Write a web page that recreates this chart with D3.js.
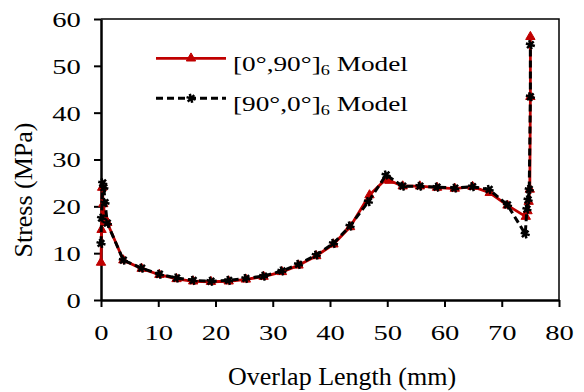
<!DOCTYPE html>
<html>
<head>
<meta charset="utf-8">
<script src="https://cdn.jsdelivr.net/npm/d3@7"></script>
<style>
  body { margin: 0; background: #fff; }
</style>
</head>
<body>
<div id="chart"></div>
<script>
// [0°,90°]6 model
const redX = [0, 0.1, 0.2, 0.4, 0.7, 1.1, 3.9, 7.1, 10.2, 13.2, 16.1, 19.2, 22.3, 25.3, 28.4, 31.6, 34.5, 37.6, 40.6, 43.5, 46.9, 49.6, 50.4, 52.7, 55.7, 58.7, 61.8, 64.9, 67.9, 71.0, 74.2, 74.5, 74.7, 74.9, 75.0, 75.0];
const redY = [8.0, 15.0, 24.0, 20.5, 17.5, 16.5, 8.5, 6.7, 5.4, 4.5, 4.0, 3.9, 4.0, 4.4, 5.0, 6.0, 7.4, 9.4, 11.9, 15.6, 22.4, 25.6, 25.5, 24.3, 24.3, 24.0, 23.8, 24.2, 22.9, 20.2, 17.8, 19.0, 21.0, 23.6, 43.4, 56.2];
// [90°,0°]6 model
const blackX = [0, 0.1, 0.3, 0.5, 0.7, 1.1, 3.9, 7.1, 10.2, 13.2, 16.1, 19.2, 22.3, 25.3, 28.4, 31.6, 34.5, 37.6, 40.6, 43.5, 46.7, 49.8, 52.7, 55.7, 58.7, 61.8, 64.9, 67.8, 71.0, 74.1, 74.4, 74.6, 74.8, 75.0, 75.0];
const blackY = [12.1, 17.5, 25.0, 24.0, 20.8, 16.4, 8.5, 6.8, 5.5, 4.7, 4.2, 4.0, 4.2, 4.6, 5.1, 6.2, 7.6, 9.6, 12.1, 15.8, 21.0, 26.7, 24.3, 24.3, 24.1, 23.9, 24.2, 23.6, 20.3, 14.1, 19.4, 21.4, 23.6, 43.4, 54.5];

const xTicks = [0, 10, 20, 30, 40, 50, 60, 70, 80];
const yTicks = [0, 10, 20, 30, 40, 50, 60];

const width = 584, height = 392;
const margin = { left: 101, right: 25, top: 19, bottom: 92 };
const stretch = 1.3; // tick and legend text in the picture is wider than normal
const font = '"Liberation Serif"';

const svg = d3.select('#chart').append('svg')
  .attr('width', width)
  .attr('height', height);

const x = d3.scaleLinear().domain([0, 80]).range([margin.left, width - margin.right]);
const y = d3.scaleLinear().domain([0, 60]).range([height - margin.bottom, margin.top]);

// frame on top and right
svg.append('path')
  .attr('d', `M${x(0)},${y(60)}H${x(80)}V${y(0)}`)
  .attr('fill', 'none')
  .attr('stroke', '#000')
  .attr('stroke-width', 1.5);

const xAxis = svg.append('g')
  .attr('transform', `translate(0,${y(0)})`)
  .call(d3.axisBottom(x).tickValues(xTicks).tickSize(7).tickSizeOuter(0));
xAxis.select('.domain').attr('stroke-width', 2.5);
xAxis.selectAll('.tick line').attr('stroke-width', 2);
xAxis.selectAll('.tick text')
  .attr('y', 40).attr('dy', 0)
  .attr('transform', `scale(${stretch},1)`);

const yAxis = svg.append('g')
  .attr('transform', `translate(${x(0)},0)`)
  .call(d3.axisLeft(y).tickValues(yTicks).tickSize(7).tickSizeOuter(0));
yAxis.select('.domain').attr('stroke-width', 2.5);
yAxis.selectAll('.tick line').attr('stroke-width', 2);
yAxis.selectAll('.tick text')
  .attr('x', -15.5).attr('dy', '0.34em')
  .attr('transform', `scale(${stretch},1)`);
svg.selectAll('.tick text')
  .style('font-family', font)
  .style('font-size', '22px')
  .attr('fill', '#000');

svg.append('text')
  .attr('x', 342).attr('y', 385)
  .attr('text-anchor', 'middle')
  .style('font-family', font)
  .style('font-size', '26px')
  .text('Overlap Length (mm)');

svg.append('text')
  .attr('transform', 'translate(31.5,190) rotate(-90)')
  .attr('text-anchor', 'middle')
  .style('font-family', font)
  .style('font-size', '26px')
  .text('Stress (MPa)');

const redData = redX.map((d, i) => [d, redY[i]]);
const blackData = blackX.map((d, i) => [d, blackY[i]]);

const line = d3.line().x(d => x(d[0])).y(d => y(d[1]));

const redColor = '#c00000';
const dash = '7,4';
const tri = d3.symbol().type(d3.symbolTriangle).size(38);
const crossType = d3.symbolAsterisk || d3.symbolCross;
const star = d3.symbol().type(crossType).size(60);

function drawRed(g, data) {
  g.append('path').datum(data)
    .attr('d', line)
    .attr('fill', 'none')
    .attr('stroke', redColor)
    .attr('stroke-width', 2.8)
    .attr('stroke-linejoin', 'round');
  g.selectAll('path.mk').data(data).enter().append('path')
    .attr('class', 'mk')
    .attr('transform', d => `translate(${x(d[0])},${y(d[1])})`)
    .attr('d', tri)
    .attr('fill', redColor)
    .attr('stroke', redColor)
    .attr('stroke-width', 1);
}

function drawBlack(g, data) {
  g.append('path').datum(data)
    .attr('d', line)
    .attr('fill', 'none')
    .attr('stroke', '#000')
    .attr('stroke-width', 3)
    .attr('stroke-dasharray', dash);
  g.selectAll('path.mk').data(data).enter().append('path')
    .attr('class', 'mk')
    .attr('transform', d => `translate(${x(d[0])},${y(d[1])}) rotate(45)`)
    .attr('d', star)
    .attr('fill', '#000')
    .attr('stroke', '#000')
    .attr('stroke-width', 2.5);
}

drawRed(svg.append('g'), redData);
drawBlack(svg.append('g'), blackData);

// legend
const legend = [
  { name: '[0°,90°]', color: redColor, dash: null, marker: tri, rot: 0, ly: 58.3, sw: 2.8 },
  { name: '[90°,0°]', color: '#000', dash: dash, marker: star, rot: 45, ly: 98.3, sw: 3 }
];
legend.forEach(item => {
  const g = svg.append('g');
  g.append('line')
    .attr('x1', 156).attr('x2', 226)
    .attr('y1', item.ly).attr('y2', item.ly)
    .attr('stroke', item.color)
    .attr('stroke-width', item.sw)
    .attr('stroke-dasharray', item.dash);
  g.append('path')
    .attr('transform', `translate(191,${item.ly}) rotate(${item.rot})`)
    .attr('d', item.marker)
    .attr('fill', item.color)
    .attr('stroke', item.color)
    .attr('stroke-width', item.rot ? 2.5 : 1);
  const t = g.append('text')
    .attr('transform', `translate(233,${item.ly + 12.4}) scale(${stretch},1)`)
    .style('font-family', font)
    .style('font-size', '21px');
  t.append('tspan').text(item.name);
  t.append('tspan').style('font-size', '14px').attr('dy', 4).text('6');
  t.append('tspan').attr('dy', -4).text(' Model');
});
</script>
</body>
</html>
